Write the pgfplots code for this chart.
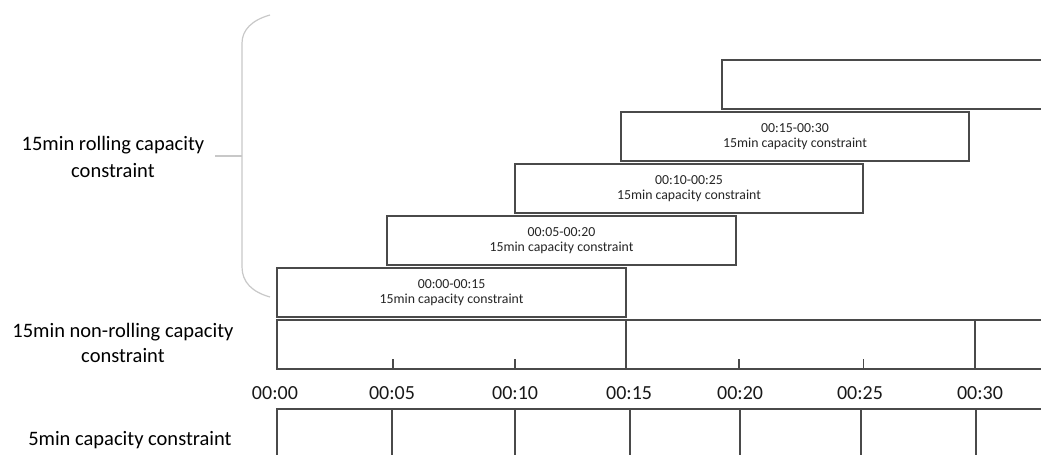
\documentclass[border=0pt]{standalone}
\usepackage{pgfplots}
\pgfplotsset{compat=1.18}
\usepackage{fontspec}
\setmainfont{Carlito}
\definecolor{boxline}{HTML}{4A4A4A}
\definecolor{bracegray}{HTML}{C8C8C8}
\begin{document}
\begin{tikzpicture}
\begin{axis}[
  scale only axis, width=520.5pt, height=227.5pt,
  xmin=-11.904, xmax=32.83, ymin=0, ymax=455, y dir=reverse,
  hide axis, clip=true, enlargelimits=false,
  box/.style={draw=boxline, line width=0.75pt, fill=white, mark=none},
  ln/.style={draw=boxline, line width=0.75pt, mark=none},
]
\path (rel axis cs:0,0) rectangle (rel axis cs:1,1);
% rolling 15min windows (start, end in minutes; top, bottom in rows)
\addplot[box] coordinates {(19.12,60) (40,60) (40,109) (19.12,109)} -- cycle;
\addplot[box] coordinates {(14.78,112) (29.74,112) (29.74,161) (14.78,161)} -- cycle;
\addplot[box] coordinates {(10.23,164) (25.18,164) (25.18,213) (10.23,213)} -- cycle;
\addplot[box] coordinates {(4.73,216) (19.72,216) (19.72,265) (4.73,265)} -- cycle;
\addplot[box] coordinates {(0,268) (15,268) (15,317) (0,317)} -- cycle;
% non-rolling row
\addplot[box] coordinates {(0,320) (40,320) (40,369) (0,369)} -- cycle;
\addplot[ln] coordinates {(15,320) (15,369)};
\addplot[ln] coordinates {(30,320) (30,369)};
\addplot[ln] coordinates {(4.98,359) (4.98,369)};
\addplot[ln] coordinates {(10.23,359) (10.23,369)};
\addplot[ln] coordinates {(19.85,359) (19.85,369)};
\addplot[ln] coordinates {(25.2,359) (25.2,369)};
% 5min row
\addplot[ln] coordinates {(0,470) (0,409) (40,409)};
\addplot[ln] coordinates {(4.94,409) (4.94,470)};
\addplot[ln] coordinates {(10.23,409) (10.23,470)};
\addplot[ln] coordinates {(15.17,409) (15.17,470)};
\addplot[ln] coordinates {(19.9,409) (19.9,470)};
\addplot[ln] coordinates {(25.1,409) (25.1,470)};
\addplot[ln] coordinates {(30.04,409) (30.04,470)};
% box texts
\begin{scope}[every node/.style={font=\fontsize{6.9}{7.6}\selectfont, align=center, text=black!85}]
\node at (axis cs:7.5,292.5) {00:00-00:15\\15min capacity constraint};
\node at (axis cs:12.225,240.5) {00:05-00:20\\15min capacity constraint};
\node at (axis cs:17.705,188.5) {00:10-00:25\\15min capacity constraint};
\node at (axis cs:22.26,136.5) {00:15-00:30\\15min capacity constraint};
\end{scope}
% time labels
\begin{scope}[every node/.style={font=\fontsize{10}{12}\selectfont, text=black!90}]
\node at (axis cs:-0.09,393) {00:00};
\node at (axis cs:4.94,393) {00:05};
\node at (axis cs:10.23,393) {00:10};
\node at (axis cs:15.13,393) {00:15};
\node at (axis cs:19.9,393) {00:20};
\node at (axis cs:25.05,393) {00:25};
\node at (axis cs:30.21,393) {00:30};
\end{scope}
% left labels
\node[font=\fontsize{10.25}{13.5}\selectfont, align=center] at (axis cs:-7.05,157) {15min rolling capacity\\constraint};
\node[font=\fontsize{10.25}{12.5}\selectfont, align=center] at (axis cs:-6.62,342.5) {15min non-rolling capacity\\constraint};
\node[font=\fontsize{10.25}{12.5}\selectfont] at (axis cs:-6.32,440) {5min capacity constraint};
% brace
\draw[bracegray, line width=0.6pt] (axis cs:-0.301,15) .. controls (axis cs:-1.074,20) and (axis cs:-1.504,30) .. (axis cs:-1.504,43)
  -- (axis cs:-1.504,267) .. controls (axis cs:-1.504,282) and (axis cs:-1.074,292) .. (axis cs:-0.301,297);
\draw[bracegray, line width=0.6pt] (axis cs:-1.504,156) -- (axis cs:-2.664,156);
\end{axis}
\end{tikzpicture}
\end{document}
